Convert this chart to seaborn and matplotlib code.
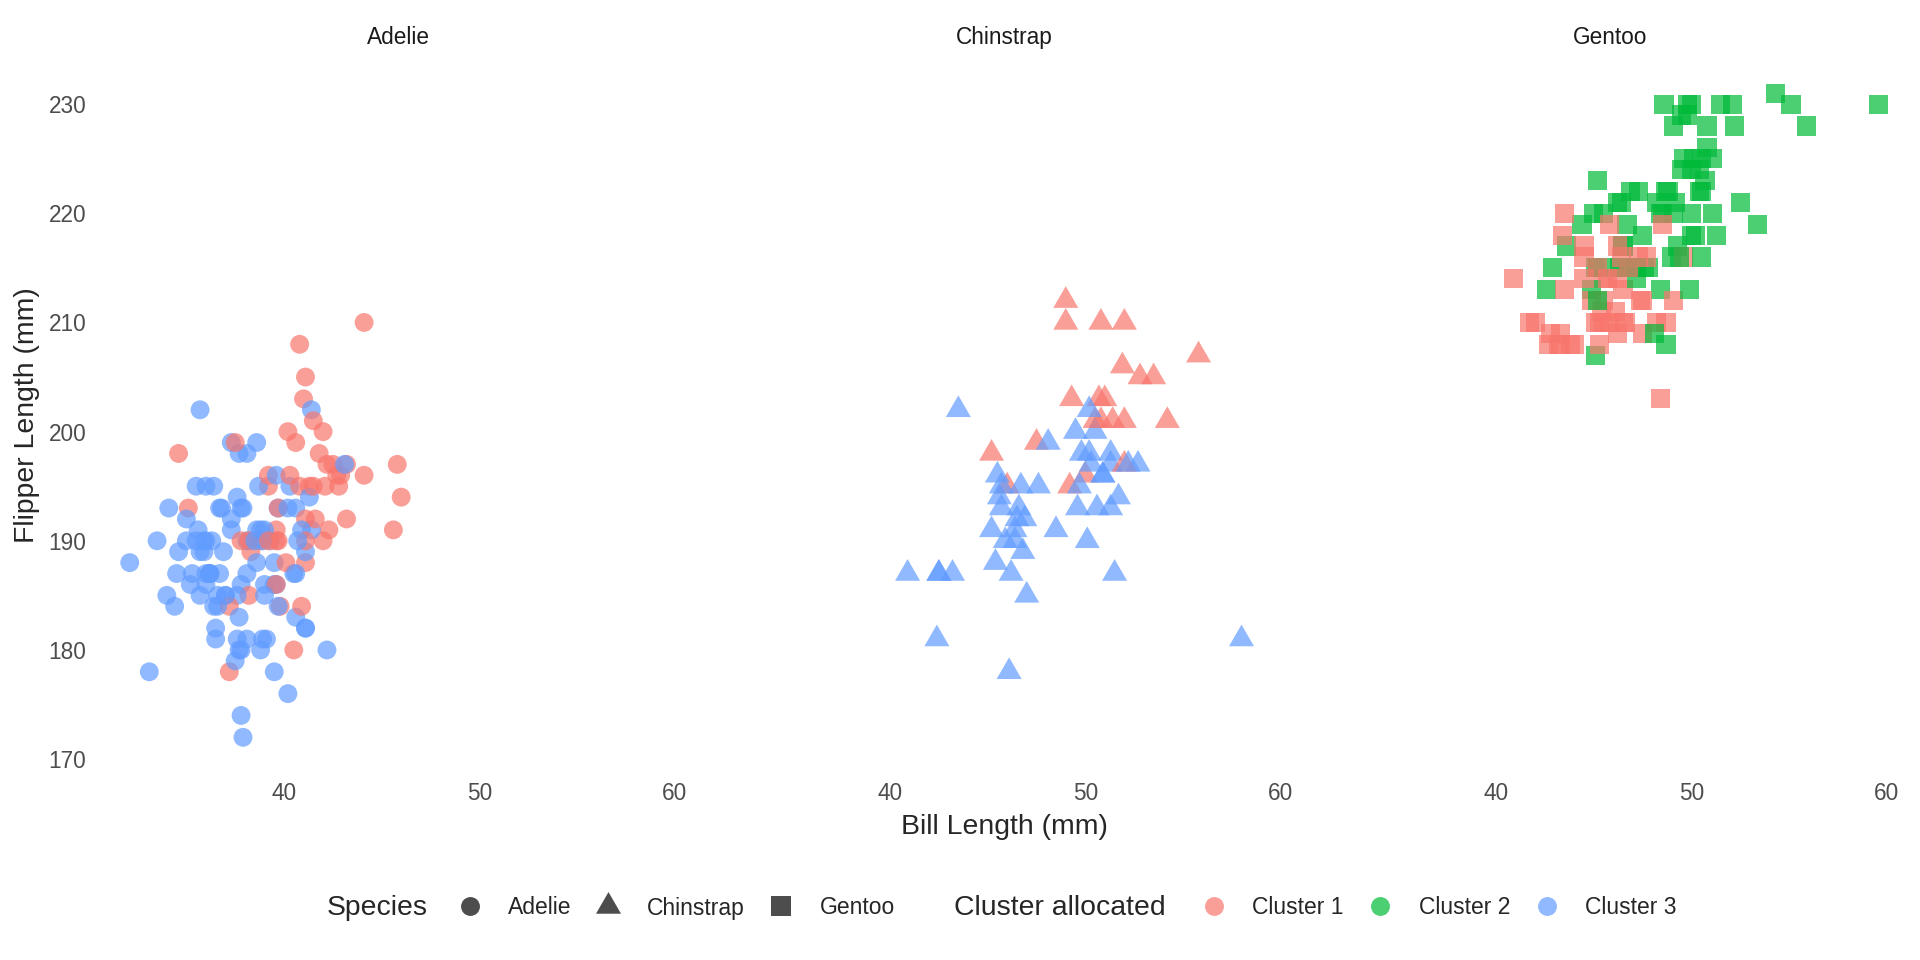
import numpy as np
import pandas as pd
import matplotlib
matplotlib.use("Agg")
import matplotlib.pyplot as plt
from matplotlib.lines import Line2D
import seaborn as sns

# ---------------- data ----------------
species_names = ["Adelie", "Chinstrap", "Gentoo"]
cluster_names = ["Cluster 1", "Cluster 2", "Cluster 3"]

adelie_bill = [39.1,39.5,40.3,36.7,39.3,38.9,39.2,34.1,42.0,37.8,37.8,41.1,38.6,34.6,36.6,38.7,42.5,34.4,46.0,37.8,
               37.7,35.9,38.2,38.8,35.3,40.6,40.5,37.9,40.5,39.5,37.2,39.5,40.9,36.4,39.2,38.8,42.2,37.6,39.8,36.5,
               40.8,36.0,44.1,37.0,39.6,41.1,37.5,36.0,42.3,39.6,40.1,35.0,42.0,34.5,41.4,39.0,40.6,36.5,37.6,35.7,
               41.3,37.6,41.1,36.4,41.6,35.5,41.1,35.9,41.8,33.5,39.7,39.6,45.8,35.5,42.8,40.9,37.2,36.2,42.1,34.6,
               42.9,36.7,35.1,37.3,41.3,36.3,36.9,38.3,38.9,35.7,41.1,34.0,39.6,36.2,40.8,38.1,40.3,33.1,43.2,35.0,
               41.0,37.7,37.8,37.9,39.7,38.6,38.2,38.1,43.2,38.1,45.6,39.7,42.2,39.6,42.7,38.6,37.3,35.7,41.1,36.2,
               37.7,40.2,41.4,35.2,40.6,38.8,41.5,39.0,44.1,38.5,43.1,36.8,37.5,38.1,41.1,35.6,40.2,37.0,39.7,40.2,
               40.6,32.1,40.7,37.3,39.0,39.2,36.6,36.0,37.8,36.0,41.5]
adelie_flipper = [181,186,195,193,190,181,195,193,190,186,180,182,191,198,185,195,197,184,194,174,
                  180,189,185,180,187,183,187,172,180,178,178,188,184,195,196,190,180,181,184,182,
                  195,186,196,185,190,182,179,190,191,186,188,190,200,187,191,186,193,181,194,185,
                  195,185,192,184,192,195,188,190,198,190,190,196,197,190,195,191,184,187,195,189,
                  196,187,193,191,194,190,189,189,190,202,205,185,186,187,208,190,196,178,192,192,
                  203,183,190,193,184,199,190,181,197,198,191,193,197,191,196,188,199,189,189,187,
                  198,176,202,186,199,191,195,191,210,190,197,193,199,187,190,191,200,185,193,193,
                  187,188,190,192,185,190,184,195,193,187,201]
adelie_cluster = [3,3,3,3,3,3,1,3,1,3, 3,3,3,1,3,3,1,3,1,3, 3,3,1,3,3,3,3,3,1,3,
                  1,3,1,3,1,1,3,3,1,3, 1,3,1,3,1,3,3,3,1,3, 1,3,1,3,3,3,3,3,3,3,
                  1,3,1,3,1,3,1,3,1,3, 1,3,1,3,1,3,1,3,1,3, 1,3,1,3,3,3,3,1,3,3,
                  1,3,1,3,1,3,1,3,1,3, 1,3,1,3,3,3,1,3,1,3, 1,3,1,1,1,3,3,3,3,3,
                  3,3,3,3,1,3,1,3,1,3, 3,3,1,3,1,3,1,3,1,3, 3,3,3,3,3,1,3,3,3,3,
                  1]

chinstrap_bill = [46.5,50.0,51.3,45.4,52.7,45.2,46.1,51.3,46.0,51.3,46.6,51.7,47.0,52.0,45.9,50.5,50.3,58.0,46.4,49.2,
                  42.4,48.5,43.2,50.6,46.7,52.0,50.5,49.5,46.4,52.8,40.9,54.2,42.5,51.0,49.7,47.5,47.6,52.0,46.9,53.5,
                  49.0,46.2,50.9,45.5,50.9,50.8,50.1,49.0,51.5,49.8,48.1,51.4,45.7,50.7,42.5,52.2,45.2,49.3,50.2,45.6,
                  51.9,46.8,45.7,55.8,43.5,49.6,50.8,50.2]
chinstrap_flipper = [192,196,193,188,197,198,178,197,195,198,193,194,185,201,190,201,197,181,190,195,
                     181,191,187,193,195,197,200,200,191,205,187,201,187,203,195,199,195,210,192,205,
                     210,187,196,196,196,201,190,212,187,198,199,201,193,203,187,197,191,203,202,194,
                     206,189,195,207,202,193,210,198]
chinstrap_cluster = [3,1,3,3,3,1,3,3,1,3, 3,3,3,1,3,1,3,3,3,1, 3,3,3,3,3,1,3,3,3,1,
                     3,1,3,1,3,1,3,1,3,1, 1,3,3,3,3,1,3,1,3,3, 3,1,3,1,3,3,3,1,3,3,
                     1,3,3,1,3,3,1,3]

gentoo_bill = [46.1,50.0,48.7,50.0,47.6,46.5,45.4,46.7,43.3,46.8,40.9,49.0,45.5,48.4,45.8,49.3,42.0,49.2,46.2,48.7,
               50.2,45.1,46.5,46.3,42.9,46.1,44.5,47.8,48.2,50.0,47.3,42.8,45.1,59.6,49.1,48.4,42.6,44.4,44.0,48.7,
               42.7,49.6,45.3,49.6,50.5,43.6,45.5,50.5,44.9,45.2,46.6,48.5,45.1,50.1,46.5,45.0,43.8,45.5,43.2,50.4,
               45.3,46.2,45.7,54.3,45.8,49.8,46.2,49.5,43.5,50.7,47.7,46.4,48.2,46.5,46.4,48.6,47.5,51.1,45.2,45.2,
               49.1,52.5,47.4,50.0,44.9,50.8,43.4,51.3,47.5,52.1,47.5,52.2,45.5,49.5,44.5,50.8,49.4,46.9,48.4,51.1,
               48.5,55.9,47.2,49.1,47.3,46.8,41.7,53.4,43.3,48.1,50.5,49.8,43.5,51.5,46.2,55.1,44.5,48.8,47.2,46.8,
               50.4,45.2,49.9]
gentoo_flipper = [211,230,210,218,215,210,211,219,209,215,214,216,214,213,210,217,210,221,209,222,
                  218,215,213,215,215,215,216,215,210,220,222,209,207,230,220,220,213,219,208,208,
                  208,225,210,216,222,217,210,225,213,215,210,220,210,225,217,220,208,220,208,224,
                  208,221,214,231,219,230,214,229,220,223,216,221,221,217,216,230,209,220,215,223,
                  212,221,212,224,212,228,218,218,212,230,218,228,212,224,214,226,216,222,203,225,
                  219,228,215,228,216,215,210,219,208,209,216,229,213,230,217,230,217,222,214,215,
                  222,212,213]
gentoo_cluster = [1,2,1,2,2,1,1,2,1,2, 1,2,1,2,1,2,1,2,1,2, 2,2,1,2,2,2,1,2,1,2,
                  2,1,2,2,2,2,2,2,1,2, 1,2,1,1,2,2,1,2,2,2, 1,2,1,2,2,2,1,2,1,2,
                  1,2,1,2,1,2,1,2,1,2, 1,2,2,2,1,2,1,2,1,2, 1,2,1,2,1,2,1,2,1,2,
                  2,2,1,2,1,2,2,2,1,2, 1,2,2,2,1,2,1,2,1,2, 2,2,1,2,1,2,1,2,2,1,
                  2,2,2]

x_ticks = [40, 50, 60]
y_ticks = [170, 180, 190, 200, 210, 220, 230]

# ---------------- build frame ----------------
frames = []
for sp, b, f, c in [("Adelie", adelie_bill, adelie_flipper, adelie_cluster),
                    ("Chinstrap", chinstrap_bill, chinstrap_flipper, chinstrap_cluster),
                    ("Gentoo", gentoo_bill, gentoo_flipper, gentoo_cluster)]:
    frames.append(pd.DataFrame({"species": sp, "bill": b, "flipper": f,
                                "cluster": [cluster_names[k - 1] for k in c]}))
df = pd.concat(frames, ignore_index=True)

# ---------------- style ----------------
sns.set_style("white")
plt.rcParams["font.family"] = ["Liberation Sans", "DejaVu Sans"]

palette = {"Cluster 1": "#F8766D", "Cluster 2": "#00BA38", "Cluster 3": "#619CFF"}
tri = [(0, 1.555), (1.347, -0.778), (-1.347, -0.778)]
markers = {"Adelie": "o", "Chinstrap": tri, "Gentoo": "s"}
msize = {"Adelie": 13.6, "Chinstrap": 20.8, "Gentoo": 13.8}

W, H = 1920, 960
fig = plt.figure(figsize=(19.2, 9.6), dpi=100)
fig.patch.set_facecolor("white")

bottom = 1 - 769.5 / H
top = 1 - 61 / H
lefts = [102.9, 708.9, 1315.0]
pw = 590.7

xlim = (30.725, 60.975)
ylim = (169.05, 233.95)

for i, sp in enumerate(species_names):
    ax = fig.add_axes([lefts[i] / W, bottom, pw / W, top - bottom])
    sub = df[df["species"] == sp]
    sns.scatterplot(data=sub, x="bill", y="flipper", hue="cluster", palette=palette,
                    marker=markers[sp], s=msize[sp] ** 2, alpha=0.7, linewidth=0,
                    edgecolor="none", legend=False, ax=ax)
    ax.set_xlim(*xlim)
    ax.set_ylim(*ylim)
    ax.set_xticks(x_ticks)
    ax.set_xticklabels([str(t) for t in x_ticks])
    ax.set_yticks(y_ticks)
    if i == 0:
        ax.set_yticklabels([str(t) for t in y_ticks])
    else:
        ax.set_yticklabels([])
    ax.tick_params(axis="both", length=0, labelsize=16.3, labelcolor="#4D4D4D")
    ax.tick_params(axis="y", pad=12)
    ax.tick_params(axis="x", pad=9)
    ax.set_xlabel("")
    ax.set_ylabel("")
    ax.grid(False)
    for s in ax.spines.values():
        s.set_visible(False)
    ax.text(0.5, 1 + 23 / 708.5, sp, transform=ax.transAxes, ha="center", va="center",
            fontsize=16.3, color="#1A1A1A")

# axis titles
fig.text(1004 / W, 1 - 826.5 / H, "Bill Length (mm)", ha="center", va="center", fontsize=20.4)
fig.text(27 / W, (bottom + top) / 2, "Flipper Length (mm)", ha="center", va="center",
         rotation=90, fontsize=20.4)

# legends
ly = 1 - 908 / H
grey = "#4D4D4D"
sp_handles = [Line2D([], [], linestyle="none", marker=markers[s], markersize=msize[s],
                     markerfacecolor=grey, markeredgewidth=0) for s in species_names]
cl_handles = [Line2D([], [], linestyle="none", marker="o", markersize=13.6,
                     markerfacecolor=palette[c], markeredgewidth=0, alpha=0.7) for c in cluster_names]

common = dict(ncol=3, frameon=False, fontsize=16.5, handlelength=1.2, handletextpad=1.08,
              columnspacing=0.99, borderaxespad=0, loc="center left")
leg1 = fig.legend(sp_handles, species_names, bbox_to_anchor=(447 / W, ly), **common)
leg2 = fig.legend(cl_handles, cluster_names, bbox_to_anchor=(1191 / W, ly), **common)
fig.text(327 / W, ly, "Species", ha="left", va="center", fontsize=20.4)
fig.text(954 / W, ly, "Cluster allocated", ha="left", va="center", fontsize=20.4)

fig.savefig("out.png", dpi=100, facecolor="white")
